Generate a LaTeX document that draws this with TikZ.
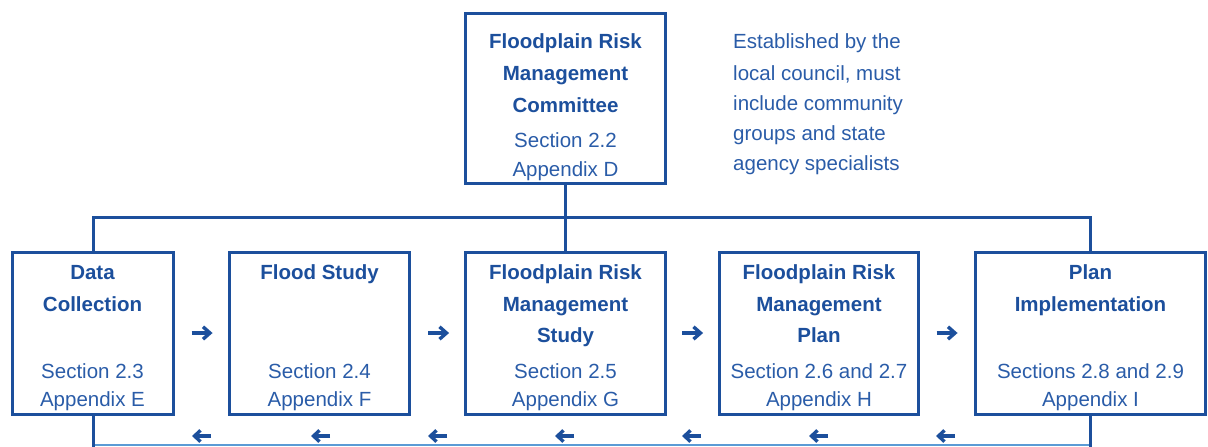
\documentclass[tikz,border=0pt]{standalone}
\usepackage{fontspec}
\setmainfont{Liberation Sans}
\definecolor{boxblue}{HTML}{1C4F9C}
\definecolor{txtblue}{HTML}{2A5CA8}
\definecolor{lightblue}{HTML}{5B9BD5}
\tikzset{
  box/.style={draw=boxblue, line width=3pt, inner sep=0pt, rectangle},
  ttl/.style={anchor=base, inner sep=0pt, text=boxblue, font=\fontsize{20.5}{30}\selectfont\bfseries},
  sec/.style={anchor=base, inner sep=0pt, text=txtblue, font=\fontsize{20.5}{30}\selectfont},
  note/.style={anchor=base west, inner sep=0pt, text=txtblue, font=\fontsize{20.5}{30}\selectfont},
  conn/.style={draw=boxblue, line width=3pt},
  arr/.style={draw=boxblue, line width=3.4pt, line join=miter},
  rarr/.pic={\draw[arr] (-10,0) -- (8.5,0); \draw[arr] (1.5,-6.2) -- (8.5,0) -- (1.5,6.2);},
  larr/.pic={\draw[arr] (9,0) -- (-7.5,0); \draw[arr] (-1.5,-5.6) -- (-7.5,0) -- (-1.5,5.6);}
}
\begin{document}
\begin{tikzpicture}[x=1pt, y=-1pt]
\useasboundingbox (0,0) rectangle (1208,447);
% boxes
\node[box, minimum width=200pt, minimum height=170pt] (top) at (565.5,98.3) {};
\node[box, minimum width=161pt, minimum height=161.5pt] (b1) at (92.5,333.7) {};
\node[box, minimum width=180pt, minimum height=161.5pt] (b2) at (319.5,333.7) {};
\node[box, minimum width=200pt, minimum height=161.5pt] (b3) at (565.5,333.7) {};
\node[box, minimum width=199pt, minimum height=161.5pt] (b4) at (819,333.7) {};
\node[box, minimum width=230pt, minimum height=161.5pt] (b5) at (1090.5,333.7) {};
% top box text
\node[ttl] (ta) at (565.5,48.5) {Floodplain Risk};
\node[ttl] (tb) at (565.5,80) {Management};
\node[ttl] (tc) at (565.5,112) {Committee};
\node[sec] (td) at (565.5,147.5) {Section 2.2};
\node[sec] (te) at (565.5,176.5) {Appendix D};
% note
\node[note] (n1) at (733,48.5) {Established by the};
\node[note] (n2) at (733,80) {local council, must};
\node[note] (n3) at (733,110) {include community};
\node[note] (n4) at (733,140) {groups and state};
\node[note] (n5) at (733,170.5) {agency specialists};
% box 1
\node[ttl] (b1a) at (92.5,279) {Data};
\node[ttl] (b1b) at (92.5,311) {Collection};
\node[sec] (b1c) at (92.5,378) {Section 2.3};
\node[sec] (b1d) at (92.5,406.5) {Appendix E};
% box 2
\node[ttl] (b2a) at (319.5,279) {Flood Study};
\node[sec] (b2c) at (319.5,378) {Section 2.4};
\node[sec] (b2d) at (319.5,406.5) {Appendix F};
% box 3
\node[ttl] (b3a) at (565.5,279) {Floodplain Risk};
\node[ttl] (b3b) at (565.5,311) {Management};
\node[ttl] (b3c) at (565.5,342) {Study};
\node[sec] (b3d) at (565.5,378) {Section 2.5};
\node[sec] (b3e) at (565.5,406.5) {Appendix G};
% box 4
\node[ttl] (b4a) at (819,279) {Floodplain Risk};
\node[ttl] (b4b) at (819,311) {Management};
\node[ttl] (b4c) at (819,342) {Plan};
\node[sec] (b4d) at (819,378) {Section 2.6 and 2.7};
\node[sec] (b4e) at (819,406.5) {Appendix H};
% box 5
\node[ttl] (b5a) at (1090.5,279) {Plan};
\node[ttl] (b5b) at (1090.5,311) {Implementation};
\node[sec] (b5c) at (1090.5,378) {Sections 2.8 and 2.9};
\node[sec] (b5d) at (1090.5,406.5) {Appendix I};
% bus connectors
\coordinate (busL) at (93.3,217);
\coordinate (busR) at (1090.5,217);
\draw[conn] (top.south) -- (b3.north);
\draw[conn, line join=miter] ([xshift=0.8pt]b1.north) -- (busL) -- (busR) -- (b5.north);
% bottom return line
\coordinate (lowL) at (93.3,445);
\coordinate (lowR) at (1090.5,445);
\draw[draw=lightblue, line width=1.6pt] (lowL) -- (lowR);
\draw[conn] ([xshift=0.8pt]b1.south) -- (93.3,447);
\draw[conn] (b5.south) -- (1090.5,447);
% right arrows
\coordinate (r1) at (201.5,333);
\coordinate (r2) at (438,333);
\coordinate (r3) at (692,333);
\coordinate (r4) at (946.5,333);
\foreach \c in {r1,r2,r3,r4} \pic at (\c) {rarr};
% left arrows
\foreach \i/\x in {1/202,2/321,3/438,4/565,5/692,6/819,7/946} {
  \coordinate (l\i) at (\x,436);
  \pic at (l\i) {larr};
}
\end{tikzpicture}
\end{document}
